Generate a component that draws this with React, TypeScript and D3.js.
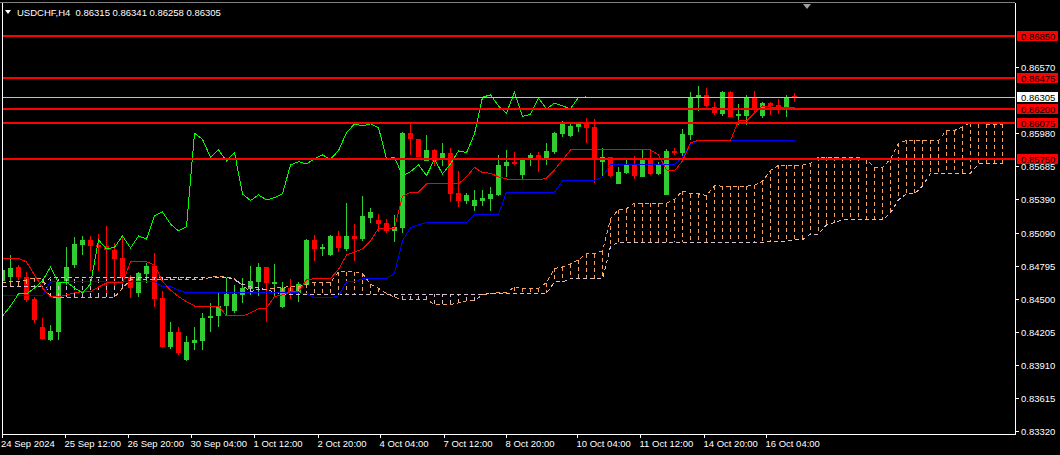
import * as d3 from "d3";

// USDCHF H4 candles, left to right (100 bars)
const opens = [
  0.84661, 0.84699, 0.84789, 0.84697, 0.845, 0.8425, 0.84133, 0.84208, 0.84643, 0.84804,
  0.84983, 0.85027, 0.84983, 0.84974, 0.84938, 0.84867, 0.84697, 0.84554, 0.84723, 0.84795,
  0.84509, 0.84071, 0.84205, 0.83955, 0.84109, 0.84125, 0.8433, 0.84348, 0.84437, 0.84393,
  0.84536, 0.84589, 0.84652, 0.84786, 0.84634, 0.84428, 0.84598, 0.84554, 0.84625, 0.85027,
  0.8495, 0.84893, 0.85063, 0.84947, 0.85063, 0.85036, 0.85224, 0.85206, 0.85179, 0.85108,
  0.85135, 0.85979, 0.85926, 0.85734, 0.85832, 0.85749, 0.85803, 0.85445, 0.85379, 0.85331,
  0.85379, 0.85394, 0.8543, 0.85689, 0.85727, 0.85609, 0.85743, 0.85787, 0.85743, 0.85817,
  0.85975, 0.85957, 0.8604, 0.86071, 0.8604, 0.85727, 0.85767, 0.85528, 0.85624, 0.85698,
  0.85593, 0.85743, 0.85617, 0.8543, 0.85826, 0.85808, 0.85966, 0.86294, 0.86324, 0.86214,
  0.86154, 0.86348, 0.86139, 0.86139, 0.86303, 0.86139, 0.8625, 0.86234, 0.86214, 0.86315,
];
const highs = [
  0.84795, 0.84893, 0.84804, 0.84744, 0.84521, 0.8433, 0.84268, 0.84679, 0.84965, 0.85054,
  0.85063, 0.85063, 0.85081, 0.85153, 0.85003, 0.85054, 0.84715, 0.84744, 0.84822, 0.84914,
  0.84574, 0.84294, 0.84252, 0.84169, 0.84252, 0.84372, 0.84467, 0.84556, 0.84688, 0.84625,
  0.84688, 0.84795, 0.84822, 0.84789, 0.84813, 0.84652, 0.84679, 0.84655, 0.85036, 0.85072,
  0.84992, 0.85072, 0.85108, 0.85361, 0.85168, 0.85421, 0.85311, 0.8526, 0.85215, 0.85251,
  0.85996, 0.86069, 0.8593, 0.85966, 0.85836, 0.85897, 0.85847, 0.8564, 0.85445, 0.85474,
  0.85474, 0.85504, 0.85787, 0.85832, 0.85817, 0.85758, 0.85808, 0.85817, 0.85892, 0.85996,
  0.86091, 0.86071, 0.86076, 0.86115, 0.86107, 0.85847, 0.85772, 0.85677, 0.85743, 0.85778,
  0.85838, 0.85826, 0.85727, 0.85838, 0.85847, 0.86017, 0.86353, 0.86404, 0.86384, 0.86264,
  0.86359, 0.86359, 0.86243, 0.86324, 0.86359, 0.86264, 0.86257, 0.86285, 0.86324, 0.86341,
];
const lows = [
  0.84625, 0.84655, 0.8467, 0.84476, 0.84288, 0.84133, 0.84125, 0.84133, 0.84625, 0.84777,
  0.84893, 0.84753, 0.84753, 0.84554, 0.8461, 0.84607, 0.84512, 0.84515, 0.84643, 0.84426,
  0.84059, 0.84056, 0.83999, 0.83943, 0.84044, 0.84044, 0.84208, 0.84252, 0.84357, 0.84372,
  0.84464, 0.84536, 0.84529, 0.84297, 0.84521, 0.8442, 0.845, 0.84476, 0.84616, 0.8484,
  0.84884, 0.84884, 0.84923, 0.84932, 0.8484, 0.85021, 0.85182, 0.85102, 0.85087, 0.8501,
  0.85093, 0.85787, 0.85765, 0.85729, 0.85685, 0.85689, 0.8537, 0.85325, 0.85349, 0.85289,
  0.85331, 0.85289, 0.85421, 0.85588, 0.85698, 0.85564, 0.85689, 0.85638, 0.85698, 0.85796,
  0.85951, 0.85951, 0.85996, 0.85892, 0.8554, 0.85593, 0.85588, 0.85524, 0.85617, 0.8557,
  0.85588, 0.85609, 0.85609, 0.85426, 0.85787, 0.85778, 0.85922, 0.86183, 0.86219, 0.86145,
  0.86139, 0.86124, 0.86056, 0.86056, 0.86174, 0.86121, 0.86145, 0.86154, 0.8613, 0.86258,
];
const closes = [
  0.84759, 0.8478, 0.84694, 0.84491, 0.84312, 0.84142, 0.84214, 0.84655, 0.84786, 0.84992,
  0.85027, 0.84974, 0.84962, 0.84938, 0.84858, 0.84688, 0.84598, 0.84732, 0.84795, 0.845,
  0.84071, 0.84205, 0.84017, 0.84116, 0.84133, 0.8433, 0.84348, 0.84437, 0.84545, 0.84545,
  0.84598, 0.84661, 0.84786, 0.84643, 0.84652, 0.84598, 0.84554, 0.84634, 0.85027, 0.84947,
  0.84962, 0.85063, 0.84956, 0.85063, 0.85036, 0.85242, 0.85278, 0.8517, 0.85108, 0.85144,
  0.85981, 0.85926, 0.85767, 0.85832, 0.85734, 0.85808, 0.85439, 0.85379, 0.8543, 0.85385,
  0.85406, 0.85439, 0.85698, 0.85727, 0.85707, 0.85752, 0.85787, 0.85749, 0.85826, 0.85987,
  0.86064, 0.86047, 0.86064, 0.86031, 0.85752, 0.85767, 0.856, 0.85638, 0.85698, 0.85602,
  0.85749, 0.85617, 0.85707, 0.85823, 0.85808, 0.85975, 0.86303, 0.86324, 0.86225, 0.8616,
  0.86348, 0.8613, 0.86151, 0.86294, 0.86199, 0.8625, 0.86225, 0.86199, 0.86303, 0.86305,
];

// Ichimoku lines
const tenkan = [
  0.84864, 0.84864, 0.84864, 0.84831, 0.84715, 0.84598, 0.84518, 0.84518, 0.84536, 0.84554,
  0.84565, 0.84565, 0.84607, 0.84643, 0.84643, 0.84643, 0.84831, 0.84833, 0.84833, 0.84804,
  0.84655, 0.8458, 0.84521, 0.84476, 0.84437, 0.84437, 0.84437, 0.84437, 0.84348, 0.84348,
  0.84348, 0.84375, 0.84411, 0.8442, 0.84521, 0.84536, 0.84563, 0.84563, 0.8467, 0.84683,
  0.84683, 0.84683, 0.84764, 0.84893, 0.8492, 0.84947, 0.85019, 0.8513, 0.8513, 0.8513,
  0.85416, 0.85454, 0.85454, 0.85528, 0.85528, 0.85528, 0.85528, 0.85528, 0.85593, 0.85677,
  0.85629, 0.85624, 0.85591, 0.85573, 0.85564, 0.85564, 0.85564, 0.85564, 0.85579, 0.85653,
  0.85743, 0.85832, 0.85838, 0.85838, 0.85838, 0.85832, 0.85832, 0.85832, 0.85832, 0.85832,
  0.85832, 0.85832, 0.85787, 0.85653, 0.85644, 0.85734, 0.85895, 0.85917, 0.85917, 0.85917,
  0.85917, 0.85917, 0.86091, 0.86091, 0.86163, 0.86225, 0.86216, 0.86207, 0.86207, 0.86207,
];
const kijun = [
  0.84529, 0.84529, 0.84529, 0.84529, 0.84529, 0.84529, 0.84655, 0.84655, 0.84655, 0.84655,
  0.84655, 0.84655, 0.84655, 0.84655, 0.84655, 0.84655, 0.84655, 0.84655, 0.84655, 0.84655,
  0.8461, 0.8461, 0.8458, 0.84554, 0.84554, 0.84554, 0.84554, 0.84554, 0.84554, 0.84554,
  0.84554, 0.84554, 0.84554, 0.84554, 0.84554, 0.84554, 0.84554, 0.84554, 0.84549, 0.84509,
  0.84509, 0.84509, 0.84527, 0.84652, 0.84652, 0.84681, 0.84681, 0.84681, 0.84681, 0.84732,
  0.85019, 0.85138, 0.85162, 0.85184, 0.85184, 0.85184, 0.85184, 0.85184, 0.85184, 0.85255,
  0.85255, 0.85255, 0.85255, 0.85454, 0.85454, 0.85454, 0.85454, 0.85454, 0.85454, 0.85454,
  0.85555, 0.85555, 0.85555, 0.85555, 0.85555, 0.85593, 0.85702, 0.85702, 0.85702, 0.85702,
  0.85702, 0.85702, 0.85702, 0.85702, 0.85702, 0.85765, 0.85886, 0.85918, 0.85918, 0.85918,
  0.85918, 0.85918, 0.85918, 0.85918, 0.85918, 0.85918, 0.85918, 0.85918, 0.85918, 0.85918,
];
// Senkou spans run 26 bars past the last candle (126 values)
const spanA = [
  0.84643, 0.84655, 0.84655, 0.8467, 0.84688, 0.84679, 0.84515, 0.84515, 0.84515, 0.84515,
  0.84515, 0.84515, 0.84515, 0.84515, 0.84515, 0.84598, 0.8467, 0.8467, 0.8467, 0.8467,
  0.8467, 0.8467, 0.8467, 0.8467, 0.8467, 0.8467, 0.84697, 0.84697, 0.84697, 0.8468,
  0.84622, 0.84563, 0.84586, 0.84586, 0.84595, 0.84604, 0.8461, 0.8461, 0.8463, 0.84648,
  0.84648, 0.84648, 0.84742, 0.84744, 0.84744, 0.84729, 0.84632, 0.84595, 0.8455, 0.84514,
  0.84495, 0.84495, 0.84495, 0.84495, 0.84451, 0.84451, 0.84451, 0.84464, 0.84482, 0.84486,
  0.84537, 0.84545, 0.84558, 0.84558, 0.84609, 0.84596, 0.84596, 0.84596, 0.84645, 0.84773,
  0.84786, 0.84814, 0.8485, 0.84906, 0.84906, 0.84931, 0.85217, 0.85296, 0.85307, 0.85356,
  0.85356, 0.85356, 0.85356, 0.85356, 0.85389, 0.85466, 0.85442, 0.8544, 0.85423, 0.85513,
  0.85508, 0.85508, 0.85508, 0.85508, 0.85516, 0.85553, 0.85649, 0.85693, 0.85696, 0.85696,
  0.85696, 0.85712, 0.85767, 0.85767, 0.85767, 0.85767, 0.85767, 0.85767, 0.85744, 0.85677,
  0.85673, 0.85752, 0.85893, 0.85917, 0.85917, 0.85917, 0.85917, 0.85917, 0.86005, 0.86005,
  0.8604, 0.86072, 0.86067, 0.86063, 0.86063, 0.86063,
];
const spanB = [
  0.84607, 0.84607, 0.84607, 0.84607, 0.84607, 0.84607, 0.84694, 0.84694, 0.84694, 0.84694,
  0.84694, 0.84694, 0.84694, 0.84694, 0.84694, 0.84694, 0.84694, 0.84694, 0.84694, 0.84694,
  0.84694, 0.84694, 0.84694, 0.84694, 0.84694, 0.84694, 0.84694, 0.84694, 0.84694, 0.8467,
  0.84634, 0.84607, 0.84598, 0.8458, 0.84563, 0.8454, 0.8454, 0.8454, 0.8454, 0.8454,
  0.8454, 0.8454, 0.8454, 0.8454, 0.8454, 0.8454, 0.8454, 0.8454, 0.8454, 0.8454,
  0.8454, 0.8454, 0.8454, 0.8454, 0.8454, 0.8454, 0.8454, 0.8454, 0.8454, 0.8454,
  0.8454, 0.84549, 0.84549, 0.84549, 0.84549, 0.84549, 0.84549, 0.84549, 0.84549, 0.84652,
  0.84652, 0.84681, 0.84681, 0.84681, 0.84681, 0.84681, 0.84969, 0.85006, 0.85006, 0.85006,
  0.85006, 0.85006, 0.85006, 0.85006, 0.85006, 0.85006, 0.85006, 0.85006, 0.85006, 0.85006,
  0.85006, 0.85006, 0.85006, 0.85006, 0.85006, 0.85006, 0.85017, 0.85017, 0.85017, 0.85029,
  0.85029, 0.85079, 0.85079, 0.85162, 0.85184, 0.85206, 0.85206, 0.85206, 0.85206, 0.85206,
  0.85206, 0.85267, 0.85386, 0.8544, 0.8544, 0.8551, 0.85622, 0.85622, 0.85622, 0.85622,
  0.85622, 0.85622, 0.85707, 0.85707, 0.85707, 0.85707,
];
const chikouShift = 26;

// horizontal levels drawn on the chart
const levels = [0.8685, 0.86475, 0.862, 0.86075, 0.8575];
const lastPrice = 0.86305;
const ohlcTitle = "USDCHF,H4  0.86315 0.86341 0.86258 0.86305";

const priceTicks = [0.8332, 0.83615, 0.8391, 0.84205, 0.845, 0.84795, 0.8509, 0.8539, 0.85685, 0.8598, 0.8657];
const timeLabels = [
  "24 Sep 2024", "25 Sep 12:00", "26 Sep 20:00", "30 Sep 04:00", "1 Oct 12:00", "2 Oct 20:00",
  "4 Oct 04:00", "7 Oct 12:00", "8 Oct 20:00", "10 Oct 04:00", "11 Oct 12:00", "14 Oct 20:00", "16 Oct 04:00",
];
// where each time label sits, in bar units
const timeTickAt = [0.03, 7.85, 15.78, 23.65, 31.53, 39.44, 47.31, 55.19, 63.06, 71.9, 79.78, 87.69, 95.56];
// chart-shift marker position, in bar units
const shiftAt = 100.5;

const BULL = "#32cd32";
const BEAR = "#ff0000";
const FONT = "'Liberation Sans', Arial, sans-serif";

export default function App() {
  const W = 1060, H = 455;
  const left = 2, right = 1015, top = 4, bottom = 434;

  const x = d3.scaleLinear().domain([0, 1]).range([2.5, 10.5]);
  const y = d3.scaleLinear().domain([0.8332, 0.8685]).range([431, 36]);

  const path = (vals: number[]) =>
    d3.line<number>().x((_, i) => x(i)).y((v) => y(v))(vals) ?? "";

  const chikou = closes.slice(chikouShift);
  const sx = Math.round(x(shiftAt));

  return (
    <svg width={W} height={H} style={{ position: "absolute", left: 0, top: 0, background: "#000" }}>
      <rect x={0} y={0} width={W} height={H} fill="#000" />
      <defs>
        <clipPath id="plot">
          <rect x={left + 1} y={top + 1} width={right - left - 1} height={bottom - top - 1} />
        </clipPath>
      </defs>

      <g clipPath="url(#plot)" shapeRendering="crispEdges">
        {/* candles */}
        {opens.map((o, i) => {
          const c = closes[i];
          const col = c >= o ? BULL : BEAR;
          const yt = Math.round(y(Math.max(o, c)));
          const yb = Math.round(y(Math.min(o, c)));
          return (
            <g key={i}>
              <rect x={Math.round(x(i) - 0.5)} y={Math.round(y(highs[i]))} width={1}
                height={Math.max(1, Math.round(y(lows[i])) - Math.round(y(highs[i])))} fill={col} />
              <rect x={Math.round(x(i) - 2.5)} y={yt} width={5} height={Math.max(1, yb - yt)} fill={col} />
            </g>
          );
        })}

        {/* kumo hatch */}
        {spanA.map((a, i) => {
          const b = spanB[i];
          return (
            <line key={"h" + i} x1={x(i)} x2={x(i)} y1={y(a)} y2={y(b)}
              stroke={a >= b ? "#f4a460" : "#d8bfd8"} strokeWidth={1} strokeDasharray="4,3" />
          );
        })}
        <path d={path(spanA)} fill="none" stroke="#f4a460" strokeWidth={1} strokeDasharray="4,3" />
        <path d={path(spanB)} fill="none" stroke="#d8bfd8" strokeWidth={1} strokeDasharray="4,3" />

        <path d={path(kijun)} fill="none" stroke="#0000ff" strokeWidth={1} />
        <path d={path(tenkan)} fill="none" stroke="#ff0000" strokeWidth={1} />
        <path d={path(chikou)} fill="none" stroke="#00ff00" strokeWidth={1} />

        {/* last price and drawn levels */}
        <line x1={left} x2={right} y1={Math.round(y(lastPrice)) + 0.5} y2={Math.round(y(lastPrice)) + 0.5}
          stroke="#c0c0c0" strokeWidth={1} />
        {levels.map((lv) => (
          <rect key={lv} x={left} y={Math.round(y(lv)) - 1} width={right - left} height={2} fill="#ff0000" />
        ))}
      </g>

      {/* frame */}
      <g shapeRendering="crispEdges">
        <line x1={0} x2={right} y1={2.5} y2={2.5} stroke="#808080" />
        <line x1={left + 0.5} x2={left + 0.5} y1={3} y2={bottom} stroke="#ffffff" />
        <line x1={left} x2={right} y1={bottom + 0.5} y2={bottom + 0.5} stroke="#ffffff" />
        <line x1={right + 0.5} x2={right + 0.5} y1={3} y2={bottom + 1} stroke="#ffffff" />
      </g>
      <path d={`M${sx - 4},4 L${sx + 4},4 L${sx},9 Z`} fill="#a0a0a0" />

      {/* title */}
      <path d="M5,10 L11,10 L8,14 Z" fill="#ffffff" />
      <text x={17} y={16} fill="#ffffff" fontFamily={FONT} fontSize={9.5} style={{ whiteSpace: "pre" }}>
        {ohlcTitle}
      </text>

      {/* price axis */}
      <g fontFamily={FONT} fontSize={9.5}>
        {priceTicks.map((p) => {
          const yy = Math.round(y(p)) + 0.5;
          return (
            <g key={p}>
              <line x1={right} x2={right + 4} y1={yy} y2={yy} stroke="#ffffff" shapeRendering="crispEdges" />
              <text x={1021} y={yy + 3.5} fill="#ffffff">{p.toFixed(5)}</text>
            </g>
          );
        })}
        {levels.map((lv) => {
          const yy = Math.round(y(lv));
          return (
            <g key={"l" + lv}>
              <rect x={1017} y={yy - 5} width={41} height={10} fill="#ff0000" />
              <text x={1021} y={yy + 3.5} fill="#000000">{lv.toFixed(5)}</text>
            </g>
          );
        })}
        <rect x={1017} y={Math.round(y(lastPrice)) - 5} width={41} height={10} fill="#ffffff" />
        <text x={1021} y={Math.round(y(lastPrice)) + 3.5} fill="#000000">{lastPrice.toFixed(5)}</text>
      </g>

      {/* time axis */}
      <g fontFamily={FONT} fontSize={9.5}>
        {timeLabels.map((t, i) => {
          const xx = Math.round(x(timeTickAt[i]) - 0.5) + 0.5;
          return (
            <g key={t}>
              <line x1={xx} x2={xx} y1={bottom} y2={bottom + 4} stroke="#ffffff" shapeRendering="crispEdges" />
              <text x={i === 0 ? 1 : xx - 1} y={447} fill="#ffffff">{t}</text>
            </g>
          );
        })}
      </g>
    </svg>
  );
}
